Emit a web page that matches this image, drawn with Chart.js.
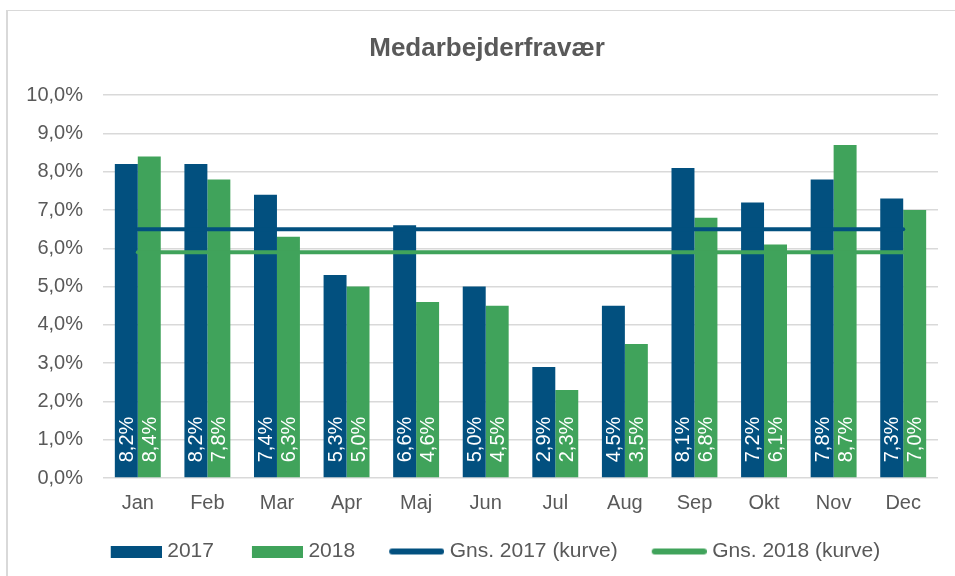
<!DOCTYPE html>
<html>
<head>
<meta charset="utf-8">
<script src="https://cdn.jsdelivr.net/npm/chart.js@4.4.1/dist/chart.umd.min.js"></script>
<style>
  html, body { margin: 0; padding: 0; background: #fff; overflow: hidden; }
  canvas { display: block; }
</style>
</head>
<body>
<canvas id="chartCanvas" width="955" height="576"></canvas>
<script>
"use strict";

const months = ['Jan', 'Feb', 'Mar', 'Apr', 'Maj', 'Jun', 'Jul', 'Aug', 'Sep', 'Okt', 'Nov', 'Dec'];
const values2017 = [8.2, 8.2, 7.4, 5.3, 6.6, 5.0, 2.9, 4.5, 8.1, 7.2, 7.8, 7.3];
const values2018 = [8.4, 7.8, 6.3, 5.0, 4.6, 4.5, 2.3, 3.5, 6.8, 6.1, 8.7, 7.0];
const avg2017 = [6.5, 6.5, 6.5, 6.5, 6.5, 6.5, 6.5, 6.5, 6.5, 6.5, 6.5, 6.5];
const avg2018 = [5.9, 5.9, 5.9, 5.9, 5.9, 5.9, 5.9, 5.9, 5.9, 5.9, 5.9, 5.9];
const yMin = 0;
const yMax = 10;
const yStep = 1;

const blue = '#02507F';
const green = '#40A35B';
const textGrey = '#595959';
const gridGrey = '#D9D9D9';
const fontFamily = "'Liberation Sans', Arial, sans-serif";

const pct = (v) => v.toFixed(1).replace('.', ',') + '%';

// legend markers: transparent lead-in gives the gap between items
const LEAD = 33;
const MARK_W = LEAD + 51;
function marker(color, round) {
    const c = document.createElement('canvas');
    c.width = MARK_W;
    c.height = 12;
    const g = c.getContext('2d');
    g.fillStyle = color;
    g.strokeStyle = color;
    if (round) {
        g.lineWidth = 6;
        g.lineCap = 'round';
        g.beginPath();
        g.moveTo(LEAD - 1, 6);
        g.lineTo(MARK_W - 3, 6);
        g.stroke();
    } else {
        g.fillRect(LEAD, 0, 51, 12);
    }
    return c;
}
const markers = [marker(blue, false), marker(green, false), marker(blue, true), marker(green, true)];

const frame = {
    id: 'frame',
    beforeDraw(chart) {
        const g = chart.ctx;
        g.save();
        g.fillStyle = '#fff';
        g.fillRect(0, 0, chart.width, chart.height);
        g.fillStyle = gridGrey;
        g.fillRect(6, 10, 2, chart.height - 10);
        g.fillRect(6, 10, chart.width - 6, 1);
        g.restore();
    },
    afterLayout(chart) {
        // centre title and legend on the full chart frame
        chart.titleBlock.left = 36;
        chart.legend.left = 25;
    }
};

// white rotated labels at the base of each bar
const barLabels = {
    id: 'barLabels',
    afterDatasetsDraw(chart) {
        const g = chart.ctx;
        g.save();
        g.fillStyle = '#fff';
        g.font = '20px ' + fontFamily;
        g.textAlign = 'left';
        g.textBaseline = 'middle';
        [0, 1].forEach((di) => {
            const meta = chart.getDatasetMeta(di);
            meta.data.forEach((bar, i) => {
                const v = chart.data.datasets[di].data[i];
                g.save();
                g.translate(bar.x + 1, bar.base - 15);
                g.rotate(-Math.PI / 2);
                g.fillText(pct(v), 0, 0);
                g.restore();
            });
        });
        g.restore();
    }
};

const ctx = document.getElementById('chartCanvas').getContext('2d');
const plot = new Chart(ctx, {
    type: 'bar',
    data: {
        labels: months,
        datasets: [
            {
                label: '2017',
                data: values2017,
                backgroundColor: blue,
                order: 2,
                categoryPercentage: 0.66,
                barPercentage: 1.0
            },
            {
                label: '2018',
                data: values2018,
                backgroundColor: green,
                order: 2,
                categoryPercentage: 0.66,
                barPercentage: 1.0
            },
            {
                type: 'line',
                label: 'Gns. 2017 (kurve)',
                data: avg2017,
                borderColor: blue,
                backgroundColor: blue,
                borderWidth: 4,
                borderCapStyle: 'round',
                pointRadius: 0,
                order: 1
            },
            {
                type: 'line',
                label: 'Gns. 2018 (kurve)',
                data: avg2018,
                borderColor: green,
                backgroundColor: green,
                borderWidth: 4,
                borderCapStyle: 'round',
                pointRadius: 0,
                order: 0
            }
        ]
    },
    options: {
        responsive: false,
        animation: false,
        devicePixelRatio: 1,
        layout: {
            padding: { left: 20, right: 17, top: 33, bottom: 4 }
        },
        scales: {
            x: {
                afterFit(scale) { scale.height += 11; },
                grid: { display: false },
                border: { display: false },
                ticks: {
                    color: textGrey,
                    font: { family: fontFamily, size: 20 },
                    padding: 5
                }
            },
            y: {
                min: yMin,
                max: yMax,
                afterFit(scale) { scale.width = 83; },
                border: { display: false },
                grid: { color: gridGrey, lineWidth: 1.5, drawTicks: false },
                ticks: {
                    stepSize: yStep,
                    color: textGrey,
                    font: { family: fontFamily, size: 20 },
                    padding: 20,
                    callback: (v) => pct(v)
                }
            }
        },
        plugins: {
            title: {
                display: true,
                text: 'Medarbejderfravær',
                color: textGrey,
                font: { family: fontFamily, size: 26, weight: 'bold' },
                padding: { top: 0, bottom: 31 }
            },
            legend: {
                position: 'bottom',
                labels: {
                    color: textGrey,
                    font: { family: fontFamily, size: 21 },
                    usePointStyle: true,
                    pointStyleWidth: MARK_W - 10,
                    padding: 10,
                    sort: (a, b) => a.datasetIndex - b.datasetIndex,
                    generateLabels(chart) {
                        const items = Chart.defaults.plugins.legend.labels.generateLabels(chart);
                        items.forEach((it) => { it.pointStyle = markers[it.datasetIndex]; });
                        return items;
                    }
                }
            },
            tooltip: { enabled: false }
        }
    },
    plugins: [frame, barLabels]
});
</script>
</body>
</html>
